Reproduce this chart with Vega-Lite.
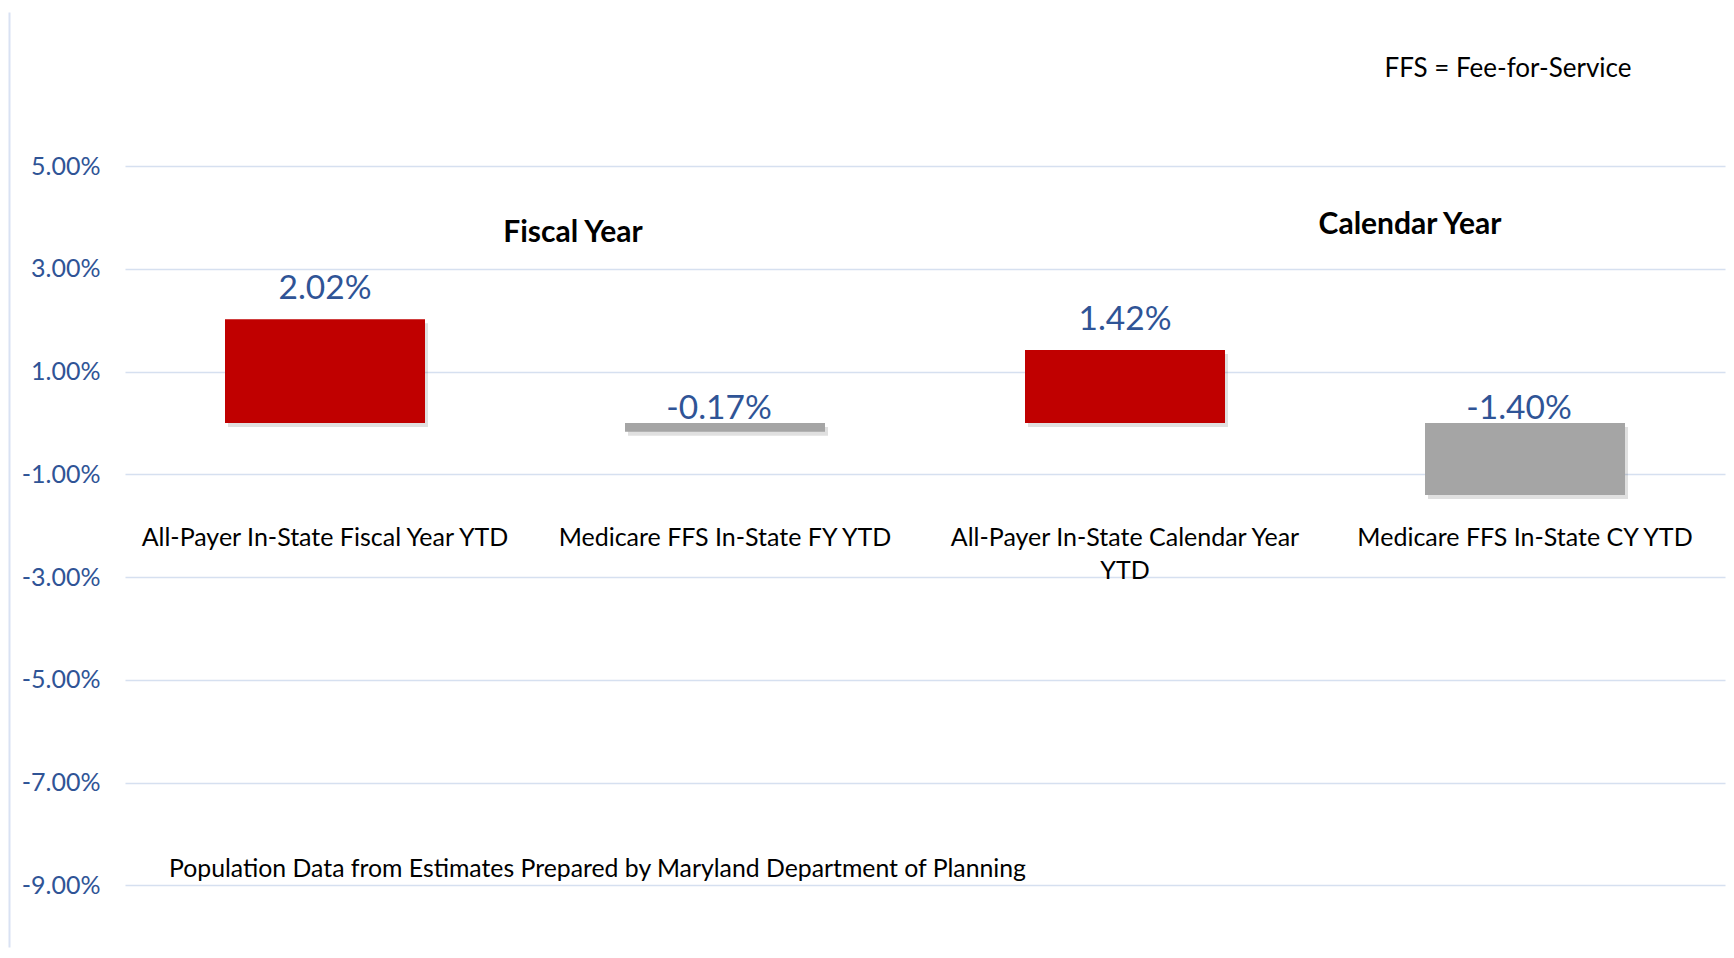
{
  "$schema": "https://vega.github.io/schema/vega-lite/v6.json",
  "width": 1600,
  "height": 935,
  "autosize": "none",
  "padding": {"left": 125, "top": 12, "right": 9, "bottom": 11},
  "background": "white",
  "config": {
    "font": "Lato",
    "view": {"stroke": null},
    "locale": {"number": {"decimal": ".", "thousands": ",", "grouping": [3], "currency": ["$", ""], "minus": "-"}}
  },
  "data": {
    "values": [
      {"category": "All-Payer In-State Fiscal Year YTD", "group": "All-Payer", "growth": 0.0202},
      {"category": "Medicare FFS In-State FY YTD", "group": "Medicare FFS", "growth": -0.0017},
      {"category": "All-Payer In-State Calendar Year YTD", "group": "All-Payer", "growth": 0.0142},
      {"category": "Medicare FFS In-State CY YTD", "group": "Medicare FFS", "growth": -0.0140}
    ]
  },
  "encoding": {
    "x": {
      "field": "category",
      "type": "nominal",
      "sort": null,
      "scale": {"paddingInner": 0.5, "paddingOuter": 0.25},
      "axis": {
        "title": null,
        "orient": "bottom",
        "offset": -426,
        "domain": false,
        "ticks": false,
        "grid": false,
        "labelAngle": 0,
        "labelPadding": 4,
        "labelFontSize": 25,
        "labelColor": "#000000",
        "labelLimit": 1000,
        "labelLineHeight": 33,
        "labelExpr": "datum.label == 'All-Payer In-State Calendar Year YTD' ? ['All-Payer In-State Calendar Year', 'YTD'] : datum.label"
      }
    }
  },
  "layer": [
    {
      "mark": {"type": "bar", "color": "#000000", "opacity": 0.12, "xOffset": 3, "yOffset": 4},
      "encoding": {
        "y": {"field": "growth", "type": "quantitative"}
      }
    },
    {
      "mark": {"type": "bar"},
      "encoding": {
        "y": {
          "field": "growth",
          "type": "quantitative",
          "scale": {"domain": [-0.102, 0.08], "nice": false},
          "axis": {
            "title": null,
            "values": [0.05, 0.03, 0.01, -0.01, -0.03, -0.05, -0.07, -0.09],
            "format": ".2%",
            "domain": true,
            "domainColor": "#D9E2F3",
            "domainWidth": 2,
            "offset": 116,
            "ticks": false,
            "labelFontSize": 25,
            "labelColor": "#2F5496",
            "labelPadding": -91,
            "gridColor": "#D6E0F0",
            "gridWidth": 1.5
          }
        },
        "color": {
          "field": "group",
          "type": "nominal",
          "scale": {"domain": ["All-Payer", "Medicare FFS"], "range": ["#C00000", "#A5A5A5"]},
          "legend": null
        }
      }
    },
    {
      "mark": {"type": "rule", "color": "#000000", "strokeWidth": 1.8},
      "encoding": {"y": {"datum": 0}}
    },
    {
      "transform": [{"filter": "datum.growth > 0"}],
      "mark": {"type": "text", "fontSize": 33.5, "color": "#2F5496", "baseline": "alphabetic", "dy": -20},
      "encoding": {
        "y": {"field": "growth", "type": "quantitative"},
        "text": {"field": "growth", "type": "quantitative", "format": ".2%"}
      }
    },
    {
      "transform": [{"filter": "datum.growth < 0"}],
      "mark": {"type": "text", "fontSize": 33.5, "color": "#2F5496", "baseline": "alphabetic", "dy": -4, "dx": -6},
      "encoding": {
        "y": {"datum": 0},
        "text": {"field": "growth", "type": "quantitative", "format": ".2%"}
      }
    },
    {
      "data": {"values": [{"note": "Fiscal Year"}]},
      "mark": {"type": "text", "fontSize": 30, "fontWeight": "bold", "color": "#000000", "baseline": "middle", "dx": -152},
      "encoding": {
        "x": {"datum": "Medicare FFS In-State FY YTD"},
        "y": {"datum": 0.037},
        "text": {"field": "note"}
      }
    },
    {
      "data": {"values": [{"note": "Calendar Year"}]},
      "mark": {"type": "text", "fontSize": 30, "fontWeight": "bold", "color": "#000000", "baseline": "middle", "dx": -115},
      "encoding": {
        "x": {"datum": "Medicare FFS In-State CY YTD"},
        "y": {"datum": 0.0385},
        "text": {"field": "note"}
      }
    },
    {
      "data": {"values": [{"note": "FFS = Fee-for-Service"}]},
      "mark": {"type": "text", "fontSize": 26, "color": "#000000", "baseline": "middle", "dx": -17},
      "encoding": {
        "x": {"datum": "Medicare FFS In-State CY YTD"},
        "y": {"datum": 0.069},
        "text": {"field": "note"}
      }
    },
    {
      "data": {"values": [{"note": "Population Data from Estimates Prepared by Maryland Department of Planning"}]},
      "mark": {"type": "text", "fontSize": 24.8, "color": "#000000", "baseline": "middle", "align": "left", "dx": -156},
      "encoding": {
        "x": {"datum": "All-Payer In-State Fiscal Year YTD"},
        "y": {"datum": -0.0871},
        "text": {"field": "note"}
      }
    }
  ]
}
